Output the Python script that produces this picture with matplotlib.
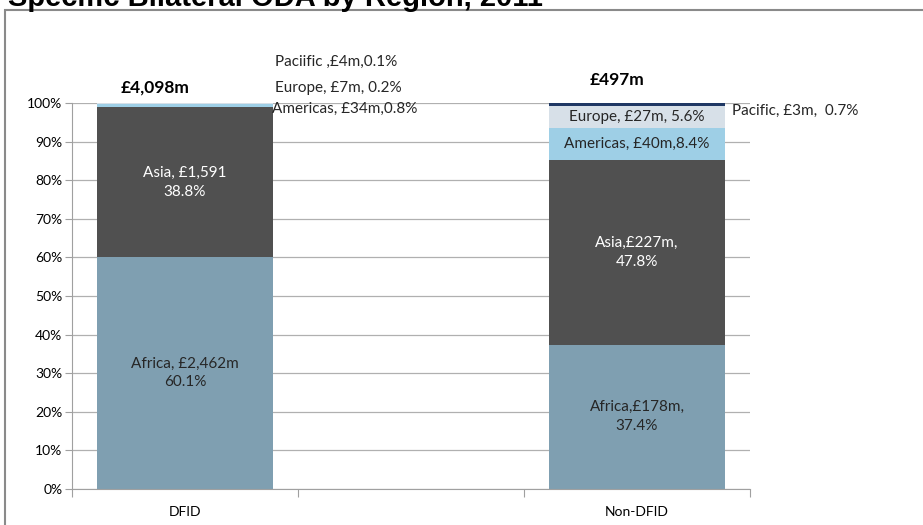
import matplotlib.pyplot as plt
from matplotlib.patches import Rectangle
import numpy as np

plt.rcParams['font.family'] = ['Lato', 'DejaVu Sans']

categories = ['DFID', '', 'Non-DFID']
regions = ['Africa', 'Asia', 'Americas', 'Europe', 'Pacific']
# percent shares per region, blank middle category kept empty
africa = [60.1, 0, 37.4]
asia = [38.8, 0, 47.8]
americas = [0.8, 0, 8.4]
europe = [0.2, 0, 5.6]
pacific = [0.1, 0, 0.7]
totals = ['£4,098m', '', '£497m']

colors = ['#7f9fb1', '#505050', '#9ecfe6', '#d7e0e8', '#1f3864']
series = [africa, asia, americas, europe, pacific]

fig = plt.figure(figsize=(9.23, 5.25), dpi=100)
ax = fig.add_axes([0.078, 0.0686, 0.7346, 0.7352])

x = np.arange(len(categories))
bottom = np.zeros(len(categories))
for vals, c in zip(series, colors):
    ax.bar(x, vals, bottom=bottom, width=0.78, color=c, zorder=2)
    bottom += np.array(vals)

ax.set_xlim(-0.5, 2.5)
ax.set_ylim(0, 100)
ax.set_yticks(np.arange(0, 101, 10))
ax.set_yticklabels([f'{v}%' for v in range(0, 101, 10)])
ax.yaxis.grid(True, color='#b0b0b0', linewidth=0.9, zorder=0)
ax.set_axisbelow(True)
ax.set_xticks([-0.5, 0.5, 1.5, 2.5])
ax.set_xticklabels([])
ax.set_xticks(x, minor=True)
ax.set_xticklabels(categories, minor=True)
ax.tick_params(axis='x', which='minor', length=0, pad=12, labelsize=10)
ax.tick_params(axis='x', which='major', length=6, color='#a0a0a0')
ax.tick_params(axis='y', length=5, color='#a0a0a0', labelsize=10, pad=2)
for s in ['top', 'right']:
    ax.spines[s].set_visible(False)
for s in ['left', 'bottom']:
    ax.spines[s].set_color('#a0a0a0')

lab = dict(ha='center', va='center', fontsize=11, linespacing=1.45)
dark = '#262626'

# labels inside the bars
ax.text(0, africa[0] / 2, 'Africa, £2,462m\n60.1%', color=dark, **lab)
ax.text(0, africa[0] + asia[0] / 2, 'Asia, £1,591\n38.8%', color='white', **lab)
ax.text(2, africa[2] / 2, 'Africa,£178m,\n37.4%', color=dark, **lab)
ax.text(2, africa[2] + asia[2] / 2, 'Asia,£227m,\n47.8%', color='white', **lab)
b = africa[2] + asia[2]
ax.text(2, b + americas[2] / 2, 'Americas, £40m,8.4%', color=dark, **lab)
b += americas[2]
ax.text(2, b + europe[2] / 2, 'Europe, £27m, 5.6%', color=dark, **lab)

# labels outside the bars
out = dict(ha='left', va='center', fontsize=11, color=dark, clip_on=False)
ax.text(0.385, 98.4, 'Americas, £34m,0.8%', **out)
ax.text(0.398, 103.9, 'Europe, £7m, 0.2%', **out)
ax.text(0.398, 110.6, 'Paciific ,£4m,0.1%', **out)
ax.text(2.42, 97.9, 'Pacific, £3m,  0.7%', **out)

for xi, t in zip(x, totals):
    if t:
        if xi == 0:
            ax.text(xi - 0.133, 104.1, t, ha='center', va='center', fontsize=12.5,
                    fontweight='bold', clip_on=False)
        else:
            ax.text(xi - 0.089, 106.0, t, ha='center', va='center', fontsize=12.5,
                    fontweight='bold', clip_on=False)

# frame and cropped title
fig.patches.append(Rectangle((5 / 923, -0.05), 1.2, 1 - 10 / 525 + 0.05, transform=fig.transFigure,
                             fill=False, edgecolor='#8a8a8a', linewidth=1.5))
fig.text(8 / 923, 1 - 6 / 525, 'Specific Bilateral ODA by Region, 2011', fontsize=21, fontweight='bold',
         family='Liberation Sans', ha='left', va='baseline')

fig.savefig('out.png', dpi=100)
